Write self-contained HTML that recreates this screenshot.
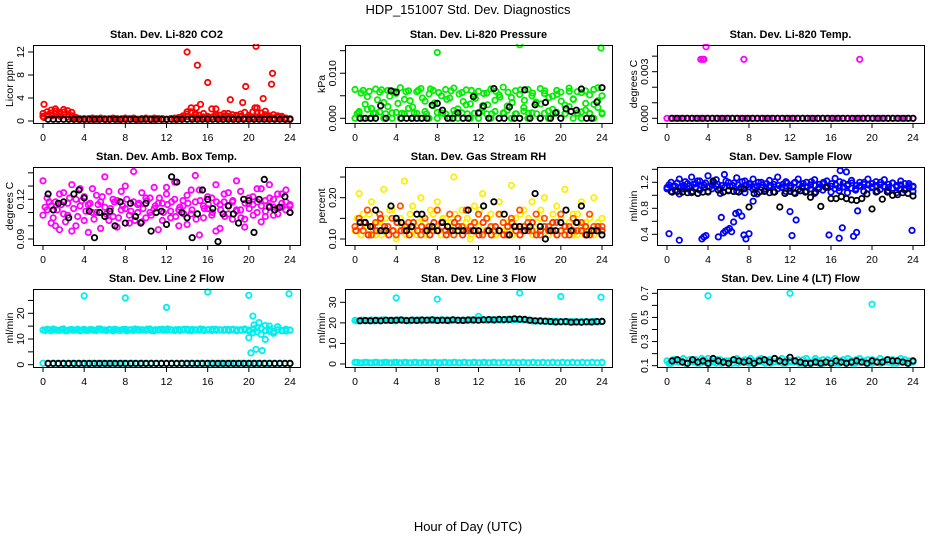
<!DOCTYPE html>
<html><head><meta charset="utf-8"><style>
html,body{margin:0;padding:0;background:#fff;}
svg{display:block;font-family:"Liberation Sans",Arial,sans-serif;}
</style></head><body>
<svg id="chart" width="936" height="540" viewBox="0 0 936 540">
<text x="468" y="14" text-anchor="middle" font-size="13">HDP_151007  Std. Dev. Diagnostics</text>
<text x="468" y="531" text-anchor="middle" font-size="13">Hour of Day (UTC)</text>
</svg>
<script>
// ---------- data ----------
const xTicks = [0,4,8,12,16,20,24];
// Panel 1: Li-820 CO2
const co2RedA = [0.8,1.6,1.9,2.1,1.2,2.0,1.8,1.5,0.6,0.4,0.4,0.3,0.5,0.4,0.4,0.3,0.4,0.5,0.4,0.3,0.4,0.4,0.5,0.3,0.4,0.4,0.3,0.5,0.4,0.4,0.3,0.4,0.5,0.6,0.4,1.6,2.3,1.3,1.0,0.7,0.6,2.1,0.9,1.0,1.3,0.8,1.1,1.0,0.7,1.5,0.8,1.6,2.3,1.4,1.7,0.9,1.1,0.6,0.8,0.5,0.4];
const co2RedB = [1.3,1.0,1.4,1.7,1.5,1.1,0.7,0.5,0.4,0.3,0.4,0.4,0.3,0.4,0.5,0.4,0.3,0.4,0.4,0.3,0.5,0.4,0.4,0.3,0.4,0.5,0.4,0.3,0.4,0.4,0.3,0.4,0.4,0.5,0.9,1.2,0.6,1.1,0.5,1.3,0.8,0.6,1.2,0.5,0.9,1.3,0.6,0.8,1.2,0.5,1.0,0.7,1.4,0.6,1.1,0.8,0.5,0.9,0.6,0.4,0.3];
const co2RedC = [0.6,1.1,0.9,1.3,0.8,1.6,1.2,0.9,0.5,0.3,0.3,0.4,0.3,0.3,0.4,0.3,0.3,0.4,0.3,0.4,0.3,0.3,0.4,0.3,0.3,0.4,0.3,0.3,0.4,0.3,0.3,0.4,0.3,0.4,0.6,0.8,0.5,0.7,0.4,0.6,0.5,0.7,0.6,0.4,0.7,0.5,0.6,0.4,0.8,0.5,0.6,0.5,0.7,0.4,0.6,0.5,0.4,0.6,0.4,0.3,0.3];
const co2OutHours = [0.1,14.0,15.0,16.0,15.3,18.2,19.4,19.7,20.7,21.4,22.3,22.2,16.8,14.4,14.9,20.6];
const co2OutVals = [2.9,12,9.7,6.7,2.9,3.7,3.2,6.0,13,3.9,8.3,6.4,2.1,1.6,2.3,2.3];
const co2Black = [0.3,0.3,0.3,0.3,0.3,0.3,0.3,0.3,0.3,0.3,0.3,0.3,0.3,0.3,0.3,0.3,0.3,0.3,0.3,0.3,0.3,0.3,0.3,0.3,0.3,0.3,0.3,0.3,0.3,0.3,0.3,0.3,0.3,0.3,0.3,0.3,0.3,0.3,0.3,0.3,0.3,0.3,0.3,0.3,0.3,0.3,0.3,0.3];
// Panel 2: Pressure (units of 0.001 kPa)
const presGreenA = [6.4,1.5,6.2,4.8,2.2,6.5,5.8,3.5,6.2,1.2,5.5,6.8,4.2,6.1,2.5,5.9,6.6,3.8,5.4,6.2,1.3,5.0,6.4,4.5,6.7,2.1,5.7,6.3,3.2,5.1,6.0,2.8,5.6,6.5,4.0,5.2,6.9,1.8,4.6,6.1,5.3,2.4,6.4,5.0,3.6,6.6,5.5,1.6,4.9,6.2,5.8,2.9,6.7,4.3,5.9,1.4,6.1,5.2,3.1,6.8,5.0];
const presGreenB = [0,1.2,0,2.0,0,1.1,1.4,0,2.6,0,1.3,0,1.0,2.2,0,1.1,0,1.5,0,2.8,0,1.2,1.0,0,1.7,0,1.2,3.0,0,1.1,0,2.3,1.0,0,1.5,0,1.2,2.7,0,1.0,0,1.6,0,1.2,3.4,0,1.1,0,2.0,1.3,0,1.0,2.6,0,1.2,0,1.8,1.1,0,2.4,1.2];
const presGreenC = [1.0,5.6,3.1,6.0,1.1,4.1,6.3,1.0,4.9,6.0,3.3,1.1,5.9,3.9,1.2,6.2,4.5,1.0,6.5,3.4,5.7,1.1,4.2,6.1,1.0,5.4,3.7,1.0,6.2,4.4,1.1,5.5,3.0,1.0,6.0,4.7,1.1,5.8,3.5,1.0,6.3,4.0,1.1,5.6,1.0,3.2,6.1,4.6,1.0,5.3,3.8,1.0,6.0,4.2,1.1,5.7,3.3,1.0,6.4,3.9,1.0];
const presBlackA = [0,0,0,0,2.8,0,6.1,5.8,0,0,0,0,0,0,2.9,3.3,1.8,0,0,1.2,0,0,4.8,1.2,2.7,0,6.6,0,0,2.5,0,0,6.3,0,3.0,0,3.5,0,1.2,0,2.1,1.5,1.8,6.5,0,0,3.6,6.8];
const presOutHours = [8.0,16.0,23.9];
const presOutVals = [14.6,16.3,15.6];
// Panel 3: Li-820 Temp (units of 0.001)
const tempMagA = [0,0,0,0,0,0,0,0,0,0,0,0,0,0,0,0,0,0,0,0,0,0,0,0,0,0,0,0,0,0,0,0,0,0,0,0,0,0,0,0,0,0,0,0,0,0,0,0,0,0,0,0,0,0,0,0,0,0,0,0,0];
const tempOutHours = [3.3,3.5,3.6,3.8,7.5,18.8];
const tempOutVals = [3.8,3.8,3.8,4.6,3.8,3.8];
const tempBlack = [0,0,0,0,0,0,0,0,0,0,0,0,0,0,0,0,0,0,0,0,0,0,0,0,0,0,0,0,0,0,0,0,0,0,0,0,0,0,0,0,0,0,0,0,0,0,0,0,0];
// Panel 4: Amb Box Temp
const ambMagA = [0.134,0.112,0.102,0.118,0.097,0.125,0.108,0.131,0.100,0.115,0.122,0.095,0.128,0.110,0.118,0.137,0.104,0.120,0.099,0.126,0.113,0.108,0.141,0.116,0.103,0.121,0.110,0.129,0.097,0.117,0.124,0.106,0.133,0.112,0.119,0.101,0.127,0.138,0.093,0.115,0.122,0.108,0.131,0.098,0.118,0.125,0.105,0.134,0.112,0.099,0.121,0.116,0.128,0.103,0.119,0.131,0.108,0.124,0.114,0.127,0.110];
const ambMagB = [0.108,0.121,0.115,0.100,0.124,0.109,0.117,0.096,0.120,0.128,0.104,0.116,0.110,0.123,0.098,0.114,0.126,0.107,0.119,0.112,0.130,0.102,0.118,0.110,0.125,0.106,0.121,0.113,0.117,0.104,0.129,0.111,0.120,0.100,0.115,0.123,0.109,0.118,0.127,0.106,0.113,0.121,0.096,0.116,0.124,0.109,0.118,0.112,0.126,0.105,0.117,0.122,0.110,0.128,0.107,0.115,0.120,0.113,0.124,0.118,0.115];
const ambMagC = [0.114,0.118,0.106,0.112,0.116,0.103,0.121,0.113,0.107,0.119,0.111,0.117,0.105,0.116,0.122,0.109,0.113,0.118,0.106,0.115,0.120,0.111,0.104,0.117,0.113,0.119,0.108,0.115,0.121,0.110,0.116,0.118,0.107,0.114,0.109,0.117,0.112,0.105,0.119,0.113,0.116,0.110,0.118,0.112,0.107,0.115,0.119,0.111,0.106,0.117,0.113,0.108,0.118,0.115,0.111,0.121,0.114,0.109,0.117,0.112,0.116];
const ambBlack = [0.124,0.112,0.117,0.118,0.106,0.124,0.127,0.121,0.111,0.091,0.110,0.107,0.111,0.100,0.118,0.102,0.117,0.107,0.102,0.117,0.096,0.110,0.111,0.101,0.137,0.133,0.110,0.106,0.091,0.109,0.127,0.120,0.113,0.088,0.109,0.115,0.109,0.102,0.120,0.119,0.095,0.120,0.135,0.114,0.112,0.114,0.122,0.110];
// Panel 5: Gas Stream RH
const rhYellow = [0.12,0.21,0.16,0.13,0.19,0.11,0.14,0.22,0.12,0.17,0.10,0.15,0.24,0.13,0.18,0.11,0.20,0.14,0.12,0.16,0.19,0.11,0.15,0.13,0.25,0.12,0.17,0.14,0.10,0.18,0.13,0.21,0.12,0.16,0.11,0.19,0.14,0.12,0.23,0.15,0.11,0.17,0.13,0.19,0.12,0.15,0.20,0.11,0.14,0.18,0.12,0.22,0.13,0.16,0.11,0.19,0.14,0.12,0.20,0.13,0.15];
const rhYellowB = [0.15,0.11,0.13,0.16,0.12,0.14,0.11,0.15,0.17,0.12,0.14,0.13,0.11,0.16,0.12,0.14,0.15,0.11,0.17,0.13,0.12,0.15,0.11,0.14,0.16,0.12,0.13,0.15,0.11,0.14,0.17,0.12,0.15,0.13,0.11,0.16,0.12,0.14,0.11,0.13,0.16,0.12,0.15,0.11,0.14,0.17,0.12,0.13,0.16,0.11,0.15,0.12,0.14,0.11,0.16,0.13,0.12,0.15,0.11,0.14,0.12];
const rhOrange = [0.13,0.15,0.12,0.17,0.11,0.14,0.16,0.12,0.13,0.15,0.11,0.18,0.12,0.14,0.13,0.16,0.11,0.15,0.13,0.12,0.17,0.14,0.12,0.16,0.11,0.15,0.13,0.17,0.12,0.14,0.16,0.11,0.15,0.13,0.12,0.16,0.14,0.11,0.15,0.13,0.17,0.12,0.14,0.12,0.16,0.11,0.15,0.13,0.12,0.14,0.16,0.11,0.13,0.15,0.12,0.14,0.11,0.16,0.13,0.12,0.13];
const rhOrangeB = [0.12,0.13,0.14,0.11,0.13,0.12,0.15,0.13,0.11,0.12,0.14,0.12,0.13,0.11,0.14,0.12,0.13,0.12,0.11,0.14,0.12,0.13,0.11,0.12,0.14,0.13,0.11,0.12,0.13,0.12,0.11,0.14,0.12,0.11,0.13,0.12,0.11,0.13,0.14,0.12,0.11,0.13,0.12,0.14,0.11,0.12,0.13,0.12,0.14,0.11,0.12,0.13,0.11,0.12,0.14,0.12,0.13,0.11,0.12,0.13,0.12];
const rhBlack = [0.14,0.14,0.13,0.17,0.12,0.12,0.18,0.15,0.14,0.12,0.13,0.16,0.16,0.12,0.13,0.12,0.14,0.13,0.12,0.12,0.12,0.17,0.12,0.12,0.18,0.12,0.19,0.12,0.16,0.11,0.13,0.13,0.12,0.13,0.21,0.13,0.10,0.12,0.12,0.14,0.17,0.12,0.14,0.18,0.11,0.12,0.12,0.11];
// Panel 6: Sample Flow
const flowBlueA = [1.12,1.20,1.08,1.25,1.15,1.10,1.28,1.18,1.22,1.12,1.30,1.16,1.24,1.10,1.32,1.20,1.15,1.27,1.12,1.22,1.18,1.25,1.14,1.20,1.10,1.23,1.17,1.28,1.12,1.21,1.15,1.19,1.25,1.12,1.20,1.16,1.24,1.10,1.18,1.22,1.14,1.26,1.12,1.19,1.15,1.23,1.10,1.20,1.17,1.25,1.13,1.21,1.16,1.24,1.12,1.19,1.15,1.22,1.10,1.18,1.13];
const flowBlueB = [1.10,1.06,1.14,1.02,1.10,1.18,1.04,1.12,1.08,1.16,1.05,1.10,1.14,1.03,1.12,1.08,1.15,1.06,1.11,1.04,1.13,1.09,1.02,1.12,1.07,1.15,1.05,1.10,1.13,1.06,1.11,1.04,1.09,1.14,1.06,1.10,1.03,1.12,1.08,1.14,1.05,1.10,1.07,1.13,1.04,1.11,1.08,1.15,1.06,1.10,1.12,1.05,1.09,1.13,1.07,1.11,1.04,1.10,1.08,1.12,1.06];
const flowBlueC = [1.16,1.14,1.19,1.13,1.21,1.14,1.17,1.22,1.15,1.19,1.13,1.20,1.17,1.15,1.22,1.14,1.19,1.16,1.21,1.15,1.17,1.13,1.20,1.16,1.18,1.14,1.21,1.15,1.17,1.19,1.14,1.20,1.16,1.18,1.13,1.21,1.15,1.17,1.20,1.14,1.18,1.16,1.21,1.13,1.17,1.19,1.15,1.14,1.20,1.16,1.18,1.15,1.20,1.14,1.17,1.19,1.13,1.16,1.18,1.15,1.14];
const flowOutHours = [0.2,1.2,3.4,3.6,3.8,5.0,5.3,5.5,5.7,5.9,6.1,6.3,6.5,6.7,7.0,7.3,7.5,7.7,8.0,8.4,12.0,12.6,12.2,15.8,16.8,17.1,18.2,18.5,18.6,23.9,16.9,17.5];
const flowOutVals = [0.41,0.31,0.33,0.36,0.38,0.36,0.66,0.42,0.45,0.47,0.49,0.44,0.59,0.72,0.74,0.68,0.39,0.33,0.41,0.91,0.75,0.62,0.38,0.39,0.34,0.50,0.37,0.43,0.76,0.46,1.38,1.36];
const flowBlack = [1.05,1.06,1.05,1.04,1.06,1.03,1.05,1.06,1.22,1.08,1.05,1.07,1.06,1.05,1.10,0.82,1.03,1.05,1.06,1.04,1.05,0.82,1.03,1.06,1.03,1.07,1.05,0.97,1.05,0.83,1.12,0.95,0.95,0.98,0.95,0.93,0.92,0.95,1.02,0.79,1.06,0.94,1.05,1.00,1.01,1.04,1.03,0.99];
// Panel 7: Line 2 Flow
const l2CyanA = [13.5,13.8,13.2,13.6,13.4,13.9,13.3,13.7,13.5,13.2,13.8,13.4,13.6,13.3,13.9,13.5,13.7,13.2,13.6,13.4,13.8,13.5,13.3,13.7,13.6,13.4,13.9,13.2,13.5,13.8,13.4,13.6,13.3,13.7,13.5,13.8,13.2,13.6,13.4,13.7,13.5,13.3,13.8,13.6,13.4,13.7,13.5,13.2,13.6,13.9,13.5,12.5,14.5,11.8,15.2,13.0,12.2,14.8,13.4,13.1,13.5];
const l2CyanC = [13.3,13.6,13.9,13.4,13.7,13.2,13.6,13.4,13.8,13.5,13.3,13.7,13.4,13.9,13.5,13.3,13.6,13.8,13.4,13.7,13.2,13.6,13.9,13.4,13.5,13.8,13.3,13.6,13.7,13.4,13.9,13.5,13.6,13.3,13.8,13.4,13.7,13.5,13.9,13.3,13.6,13.8,13.4,13.5,13.7,13.3,13.8,13.6,13.4,13.5,13.1,13.9,12.8,14.1,13.3,13.7,12.9,13.6,13.2,13.8,13.4];
const l2CyanB = [0.6,0.5,0.6,0.5,0.6,0.5,0.6,0.5,0.6,0.5,0.6,0.5,0.6,0.5,0.6,0.5,0.6,0.5,0.6,0.5,0.6,0.5,0.6,0.5,0.6,0.5,0.6,0.5,0.6,0.5,0.6,0.5,0.6,0.5,0.6,0.5,0.6,0.5,0.6,0.5,0.6,0.5,0.6,0.5,0.6,0.5,0.6,0.5,0.6,0.5,0.6];
const l2OutHours = [4.0,8.0,12.0,16.0,20.0,23.9,20.2,20.4,20.7,21.3,20.0,20.5,21.0,21.6,22.0];
const l2OutVals = [26.8,26.0,22.3,28.3,27.0,27.6,4.6,18.9,6.0,5.5,10.5,15.5,16.4,9.8,15.0];
const l2Black = [0.5,0.5,0.5,0.5,0.5,0.5,0.5,0.5,0.5,0.5,0.5,0.5,0.5,0.5,0.5,0.5,0.5,0.5,0.5,0.5,0.5,0.5,0.5,0.5,0.5,0.5,0.5,0.5,0.5,0.5,0.5,0.5,0.5,0.5,0.5,0.5,0.5,0.5,0.5,0.5,0.5,0.5,0.5,0.5,0.5,0.5,0.5,0.5];
// Panel 8: Line 3 Flow
const l3CyanA = [21.2,21.0,21.3,21.1,21.4,21.0,21.2,21.5,21.1,21.3,21.0,21.4,21.2,21.1,21.5,21.3,21.0,21.2,21.4,21.1,21.3,21.6,21.2,21.0,21.4,21.2,21.3,21.1,21.5,21.2,23.2,21.4,21.3,21.6,21.2,21.5,21.3,21.7,21.4,21.6,21.9,21.5,21.3,21.0,20.8,21.1,20.7,20.9,20.6,20.8,20.5,20.7,20.4,20.6,20.5,20.3,20.6,20.4,20.7,20.5,20.6];
const l3CyanC = [21.0,21.3,21.1,21.2,21.0,21.3,21.4,21.1,21.2,21.0,21.4,21.2,21.3,21.0,21.2,21.4,21.1,21.3,21.2,21.4,21.1,21.3,21.5,21.2,21.3,21.1,21.4,21.2,21.3,21.5,21.4,21.6,21.2,21.4,21.5,21.3,21.6,21.4,21.7,21.5,21.6,21.4,21.2,20.9,21.0,20.8,20.9,20.6,20.8,20.5,20.6,20.4,20.6,20.3,20.5,20.6,20.4,20.5,20.6,20.4,20.7];
const l3CyanB = [0.8,0.6,0.8,0.6,0.8,0.6,0.8,0.6,0.8,0.6,0.8,0.6,0.8,0.6,0.8,0.6,0.8,0.6,0.8,0.6,0.8,0.6,0.8,0.6,0.8,0.6,0.8,0.6,0.8,0.6,0.8,0.6,0.8,0.6,0.8,0.6,0.8,0.6,0.8,0.6,0.8,0.6,0.8,0.6,0.8,0.6,0.8,0.6,0.8,0.6,0.8];
const l3OutHours = [4.0,8.0,16.0,20.0,23.9];
const l3OutVals = [32.2,31.5,34.5,32.8,32.5];
const l3Black = [21.0,21.1,21.0,21.2,21.0,21.3,21.2,21.3,21.4,21.1,21.3,21.2,21.4,21.3,21.5,21.2,21.3,21.2,21.5,21.3,21.2,21.4,21.4,21.3,21.5,21.6,21.5,21.7,21.6,21.7,22.0,21.8,21.7,21.3,21.0,20.9,20.8,20.6,20.4,20.5,20.6,20.3,20.4,20.3,20.5,20.4,20.6,20.7];
// Panel 9: Line 4 (LT) Flow
const l4CyanA = [0.14,0.12,0.15,0.13,0.16,0.12,0.14,0.15,0.12,0.13,0.16,0.14,0.12,0.15,0.13,0.14,0.12,0.16,0.13,0.15,0.12,0.14,0.13,0.16,0.12,0.15,0.13,0.14,0.16,0.12,0.14,0.13,0.15,0.12,0.16,0.13,0.14,0.12,0.15,0.13,0.14,0.16,0.12,0.15,0.13,0.14,0.12,0.16,0.13,0.15,0.12,0.14,0.16,0.13,0.15,0.12,0.14,0.13,0.15,0.12,0.14];
const l4CyanB = [0.12,0.15,0.13,0.14,0.12,0.15,0.13,0.12,0.16,0.14,0.12,0.13,0.15,0.12,0.14,0.13,0.15,0.12,0.14,0.13,0.16,0.12,0.15,0.13,0.14,0.12,0.16,0.13,0.12,0.15,0.13,0.14,0.12,0.15,0.13,0.12,0.16,0.14,0.12,0.15,0.13,0.12,0.14,0.13,0.16,0.12,0.15,0.13,0.14,0.12,0.15,0.13,0.12,0.14,0.13,0.15,0.12,0.16,0.13,0.14,0.13];
const l4OutHours = [4.0,12.0,20.0];
const l4OutVals = [0.68,0.70,0.61];
const l4Black = [0.14,0.15,0.13,0.12,0.15,0.13,0.14,0.12,0.16,0.14,0.13,0.12,0.15,0.14,0.13,0.14,0.12,0.14,0.15,0.13,0.16,0.14,0.13,0.17,0.14,0.13,0.12,0.12,0.13,0.12,0.13,0.12,0.14,0.13,0.12,0.13,0.14,0.13,0.12,0.14,0.13,0.13,0.15,0.14,0.14,0.13,0.12,0.14];

// ---------- layout ----------
const NS = "http://www.w3.org/2000/svg";
const svg = document.getElementById('chart');
const colX0 = [43,355,667];
const colX24 = [290,602,913];
const boxL = [33,345,657], boxR = [300,612,924];
const rowTop = [45,167,289], rowBot = [123,245,367];

function mk(tag, attrs, parent){
  const e = document.createElementNS(NS, tag);
  for (const k in attrs) e.setAttribute(k, attrs[k]);
  (parent||svg).appendChild(e);
  return e;
}

const panels = [
 {col:0,row:0,title:"Stan. Dev. Li-820 CO2",ylab:"Licor ppm",ref:[[12,52],[0,121]],ticks:[0,4,8,12],labs:["0","4","8","12"],
  series:[{v:co2RedB,c:"#ff0000"},{v:co2RedA,c:"#ff0000"},{v:co2RedC,c:"#ff0000",s:0.1},{h:co2OutHours,v:co2OutVals,c:"#ff0000"},{v:co2Black,c:"#000",s:0.5}]},
 {col:1,row:0,title:"Stan. Dev. Li-820 Pressure",ylab:"kPa",ref:[[15,50.7],[0,118.3]],ticks:[0,5,10,15],labs:["0.000","","0.010",""],
  series:[{v:presGreenA,c:"#00ee00"},{v:presGreenB,c:"#00ee00"},{v:presGreenC,c:"#00ee00",s:0.2},{h:presOutHours,v:presOutVals,c:"#00ee00"},{v:presBlackA,c:"#000",s:0.5}]},
 {col:2,row:0,title:"Stan. Dev. Li-820 Temp.",ylab:"degrees C",ref:[[3,71.7],[0,118.3]],ticks:[0,1,2,3,4],labs:["0.000","","","0.003",""],
  series:[{v:tempMagA,c:"#ff00ff"},{h:tempOutHours,v:tempOutVals,c:"#ff00ff"},{v:tempBlack,c:"#000",s:0.5}]},
 {col:0,row:1,title:"Stan. Dev. Amb. Box Temp.",ylab:"degrees C",ref:[[0.12,199.3],[0.09,239]],ticks:[0.09,0.10,0.11,0.12,0.13,0.14],labs:["0.09","","","0.12","",""],
  series:[{v:ambMagA,c:"#ff00ff"},{v:ambMagB,c:"#ff00ff"},{v:ambMagC,c:"#ff00ff",s:0.2},{v:ambBlack,c:"#000",s:0.5}]},
 {col:1,row:1,title:"Stan. Dev. Gas Stream RH",ylab:"percent",ref:[[0.20,197.7],[0.10,239]],ticks:[0.10,0.15,0.20,0.25],labs:["0.10","","0.20",""],
  series:[{v:rhYellow,c:"#ffee00"},{v:rhYellowB,c:"#ffee00",s:0.2},{v:rhOrange,c:"#ff5500"},{v:rhOrangeB,c:"#ff3300",s:0.1},{v:rhBlack,c:"#000",s:0.5}]},
 {col:2,row:1,title:"Stan. Dev. Sample Flow",ylab:"ml/min",ref:[[1.2,182.3],[0.4,234.3]],ticks:[0.4,0.6,0.8,1.0,1.2,1.4],labs:["0.4","","0.8","","1.2",""],
  series:[{v:flowBlueA,c:"#0000ff"},{v:flowBlueB,c:"#0000ff"},{v:flowBlueC,c:"#0000ff",s:0.2},{h:flowOutHours,v:flowOutVals,c:"#0000ff"},{v:flowBlack,c:"#000",s:0.5}]},
 {col:0,row:2,title:"Stan. Dev. Line 2 Flow",ylab:"ml/min",ref:[[20,313.3],[0,364.7]],ticks:[0,5,10,15,20,25],labs:["0","","10","","20",""],
  series:[{v:l2CyanA,c:"#00eeee"},{v:l2CyanC,c:"#00eeee",s:0.2},{v:l2CyanB,c:"#00eeee"},{h:l2OutHours,v:l2OutVals,c:"#00eeee"},{v:l2Black,c:"#000",s:0.5}]},
 {col:1,row:2,title:"Stan. Dev. Line 3 Flow",ylab:"ml/min",ref:[[30,302.3],[0,364]],ticks:[0,10,20,30],labs:["0","10","20","30"],
  series:[{v:l3CyanA,c:"#00eeee"},{v:l3CyanC,c:"#00eeee",s:0.2},{v:l3CyanB,c:"#00eeee"},{v:l3CyanB,c:"#00eeee",s:0.2},{h:l3OutHours,v:l3OutVals,c:"#00eeee"},{v:l3Black,c:"#000",s:0.5}]},
 {col:2,row:2,title:"Stan. Dev. Line 4 (LT) Flow",ylab:"ml/min",ref:[[0.7,293.3],[0.1,365.7]],ticks:[0.1,0.2,0.3,0.4,0.5,0.6,0.7],labs:["0.1","","0.3","","0.5","","0.7"],
  series:[{v:l4CyanA,c:"#00eeee"},{v:l4CyanB,c:"#00eeee",s:0.2},{h:l4OutHours,v:l4OutVals,c:"#00eeee"},{v:l4Black,c:"#000",s:0.5}]}
];

panels.forEach((p,pi)=>{
  const g = mk('g',{});
  
  
  const x0 = colX0[p.col], x24 = colX24[p.col];
  const xs = h => x0 + (x24-x0)*h/24;
  const [[v1,py1],[v2,py2]] = p.ref;
  const ys = v => py2 + (v - v2)*(py1-py2)/(v1-v2);
  const L = boxL[p.col], R = boxR[p.col], T = rowTop[p.row], B = rowBot[p.row];

  const t = mk('text',{x:(L+R)/2,y:T-7,'text-anchor':'middle','font-size':'11','font-weight':'bold'},g);
  t.textContent = p.title;
  
  

  const yl = mk('text',{x:0,y:0,'text-anchor':'middle','font-size':'10.5',transform:`translate(${L-20},${(T+B)/2}) rotate(-90)`},g);
  yl.textContent = p.ylab;
  
  

  const cid = 'clip'+pi;
  const cp = mk('clipPath',{id:cid},g);
  mk('rect',{x:L-1,y:T-1,width:R-L+2,height:B-T+2},cp);
  const pg = mk('g',{'clip-path':`url(#${cid})`},g);
  
  
  p.series.forEach(s=>{
    const n = s.v.length;
    const start = s.s!==undefined ? s.s : 0;
    s.v.forEach((val,i)=>{
      const h = s.h ? s.h[i] : start + (24-start)*i/(n-1);
      const c = mk('circle',{cx:xs(h).toFixed(1),cy:ys(val).toFixed(1),r:2.7,fill:'none',stroke:s.c,'stroke-width':1.8},pg);
      
      
    });
  });

  const box = mk('rect',{x:L+0.5,y:T+0.5,width:R-L,height:B-T,fill:'none',stroke:'#000','stroke-width':1},g);
  
  

  xTicks.forEach(h=>{
    const x = xs(h);
    mk('line',{x1:x,x2:x,y1:B,y2:B+5,stroke:'#000','stroke-width':1},g);
    const tl = mk('text',{x:x,y:B+18,'text-anchor':'middle','font-size':'10.5'},g);
    tl.textContent = String(h);
    
    
  });
  p.ticks.forEach((v,i)=>{
    const y = ys(v);
    mk('line',{x1:L-5,x2:L,y1:y,y2:y,stroke:'#000','stroke-width':1},g);
    if (p.labs[i]) {
      const tl = mk('text',{x:0,y:0,'text-anchor':'middle','font-size':'10.5',transform:`translate(${L-9},${y}) rotate(-90)`},g);
      tl.textContent = p.labs[i];
      
      
    }
  });
});
</script>
</body></html>
